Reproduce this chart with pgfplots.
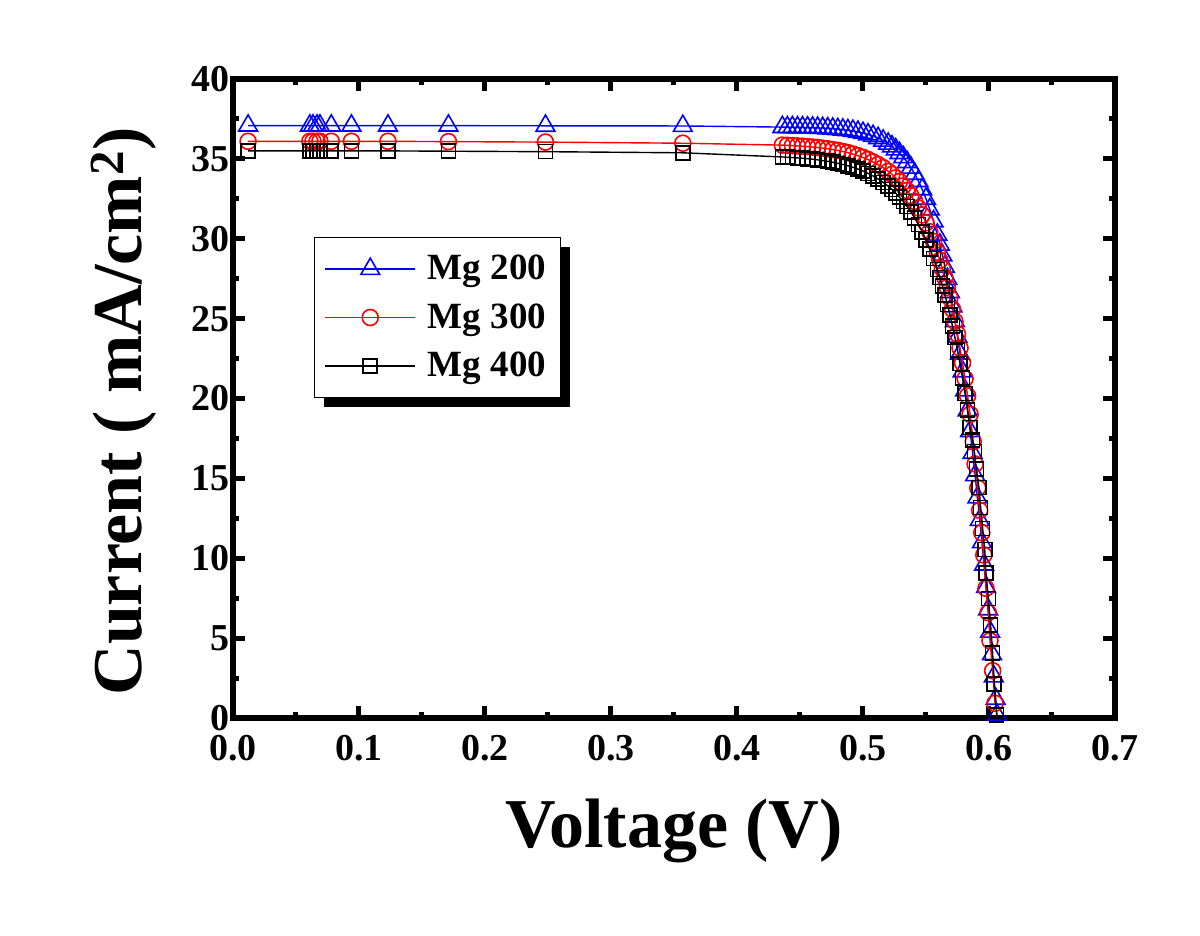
\documentclass[border=0pt]{standalone}
\usepackage{fontspec}
\setmainfont{Liberation Serif}
\usepackage{pgfplots}
\pgfplotsset{compat=1.18}

\pgfplotstableread{
V J
0.012 37.08
0.061 37.08
0.0635 37.08
0.0667 37.08
0.069 37.08
0.078 37.08
0.094 37.08
0.123 37.08
0.171 37.08
0.248 37.07
0.357 37.06
0.436 36.99
0.440 36.98
0.444 36.98
0.448 36.97
0.452 36.97
0.456 36.96
0.460 36.95
0.464 36.94
0.468 36.93
0.472 36.91
0.476 36.89
0.480 36.86
0.484 36.83
0.488 36.79
0.492 36.75
0.496 36.69
0.500 36.62
0.504 36.53
0.508 36.43
0.512 36.30
0.516 36.14
0.520 35.95
0.523 35.78
0.526 35.59
0.529 35.36
0.532 35.10
0.535 34.80
0.538 34.45
0.541 34.06
0.544 33.61
0.547 33.09
0.550 32.50
0.553 31.84
0.556 31.09
0.559 30.25
0.561 29.63
0.563 28.96
0.565 28.24
0.567 27.48
0.569 26.66
0.571 25.77
0.573 24.84
0.575 23.86
0.577 22.81
0.579 21.69
0.581 20.50
0.583 19.26
0.585 17.96
0.5870 16.6
0.5890 15.2
0.5908 13.8
0.5927 12.4
0.5944 11.0
0.5961 9.6
0.5977 8.2
0.5993 6.8
0.6009 5.4
0.6024 4.0
0.6038 2.6
0.6053 1.2
0.6063 0.2
}\mgtwo

\pgfplotstableread{
V J
0.012 36.10
0.061 36.10
0.0635 36.10
0.0667 36.10
0.069 36.10
0.078 36.10
0.094 36.10
0.123 36.10
0.171 36.08
0.248 36.05
0.357 35.98
0.436 35.86
0.440 35.85
0.444 35.83
0.448 35.81
0.452 35.79
0.456 35.77
0.460 35.74
0.464 35.71
0.468 35.67
0.472 35.63
0.476 35.58
0.480 35.53
0.484 35.46
0.488 35.39
0.492 35.30
0.496 35.20
0.500 35.09
0.504 34.96
0.508 34.81
0.512 34.64
0.516 34.45
0.520 34.22
0.523 34.03
0.526 33.81
0.529 33.58
0.532 33.31
0.535 33.02
0.538 32.70
0.541 32.34
0.544 31.93
0.547 31.49
0.550 30.99
0.553 30.44
0.556 29.83
0.559 29.15
0.561 28.65
0.563 28.12
0.565 27.56
0.567 26.95
0.569 26.30
0.571 25.59
0.573 24.83
0.575 24.03
0.577 23.16
0.579 22.23
0.581 21.24
0.583 20.17
0.585 19.01
0.5875 17.3
0.5890 15.9
0.5911 14.4
0.5926 13.0
0.5943 11.6
0.5959 10.2
0.5976 8.12
0.5994 6.59
0.6008 4.84
0.6029 2.96
0.6048 0.92
}\mgthree

\pgfplotstableread{
V J
0.012 35.50
0.061 35.50
0.0635 35.50
0.0667 35.50
0.069 35.50
0.078 35.50
0.094 35.50
0.123 35.50
0.171 35.48
0.248 35.45
0.357 35.38
0.436 35.12
0.440 35.10
0.444 35.08
0.448 35.06
0.452 35.04
0.456 35.01
0.460 34.98
0.464 34.94
0.468 34.89
0.472 34.85
0.476 34.79
0.480 34.72
0.484 34.65
0.488 34.57
0.492 34.47
0.496 34.36
0.500 34.24
0.504 34.09
0.508 33.93
0.512 33.74
0.516 33.53
0.520 33.29
0.523 33.08
0.526 32.85
0.529 32.60
0.532 32.33
0.535 32.02
0.538 31.68
0.541 31.31
0.544 30.89
0.547 30.44
0.550 29.93
0.553 29.37
0.556 28.76
0.559 28.07
0.561 27.58
0.563 27.05
0.565 26.49
0.567 25.88
0.569 25.24
0.571 24.55
0.573 23.81
0.575 23.02
0.577 22.18
0.579 21.28
0.581 20.32
0.583 19.29
0.585 18.19
0.5870 17.40
0.5884 16.67
0.5900 15.57
0.5920 14.44
0.5934 13.17
0.5950 11.85
0.5966 10.56
0.5976 9.06
0.5995 7.49
0.6013 5.82
0.6029 4.05
0.6042 2.13
0.6061 0.19
}\mgfour

\begin{document}
\begin{tikzpicture}
\path[use as bounding box] (-116.5pt,-109pt) rectangle (483.5pt,359pt);
\begin{axis}[
  name=ax, at={(0,0)}, anchor=south west,
  scale only axis, width=441pt, height=319.5pt,
  xmin=0, xmax=0.7, ymin=0, ymax=40,
  xtick={0,0.1,0.2,0.3,0.4,0.5,0.6,0.7},
  ytick={0,5,10,15,20,25,30,35,40},
  minor x tick num=1, minor y tick num=1,
  tick align=inside,
  major tick length=6pt, minor tick length=3pt,
  every tick/.style={line width=2.5pt, black},
  axis line style={line width=3pt},
  /pgf/number format/assume math mode=true,
  xticklabel style={/pgf/number format/.cd, fixed, fixed zerofill, precision=1, /tikz/.cd,
     font=\fontsize{19}{19}\selectfont\bfseries, yshift=-5pt},
  yticklabel style={font=\fontsize{19}{19}\selectfont\bfseries, xshift=2pt},
  xlabel={Voltage (V)},
  ylabel={Current ( mA/cm\textsuperscript{2})},
  xlabel style={at={(axis description cs:0.5,-0.2034)}, anchor=base,
     font=\fontsize{35}{35}\selectfont\bfseries},
  ylabel style={at={(axis description cs:-0.1032,0.48)}, anchor=base,
     font=\fontsize{35}{35}\selectfont\bfseries},
  clip mode=individual,
  legend style={at={(axis description cs:0.0918,0.7527)}, anchor=north west,
     draw=black, line width=0.6pt, fill=white,
     font=\fontsize{18.5}{18.5}\selectfont\bfseries,
     row sep=6.5pt, inner xsep=5pt, inner ysep=6.75pt,
     /tikz/every odd column/.append style={column sep=4pt}},
  legend image code/.code={\draw[mark repeat=2,mark phase=2] plot coordinates {(0pt,0pt) (22.5pt,0pt) (45pt,0pt)};},
]
\fill[black] (axis description cs:0.1032,0.7371) rectangle (axis description cs:0.3821,0.4867);
\addplot[blue, line width=0.7pt, mark=triangle, mark size=5.4pt,
   mark options={fill=white, line width=0.8pt}] table[x=V,y=J] {\mgtwo};
\addplot[red, line width=0.7pt, mark=o, mark size=4pt,
   mark options={fill=white, line width=0.8pt}] table[x=V,y=J] {\mgthree};
\addplot[black, line width=0.7pt, mark=square, mark size=3.5pt,
   mark options={fill=white, line width=0.8pt}] table[x=V,y=J] {\mgfour};
\legend{Mg 200, Mg 300, Mg 400}
\end{axis}
\end{tikzpicture}
\end{document}
